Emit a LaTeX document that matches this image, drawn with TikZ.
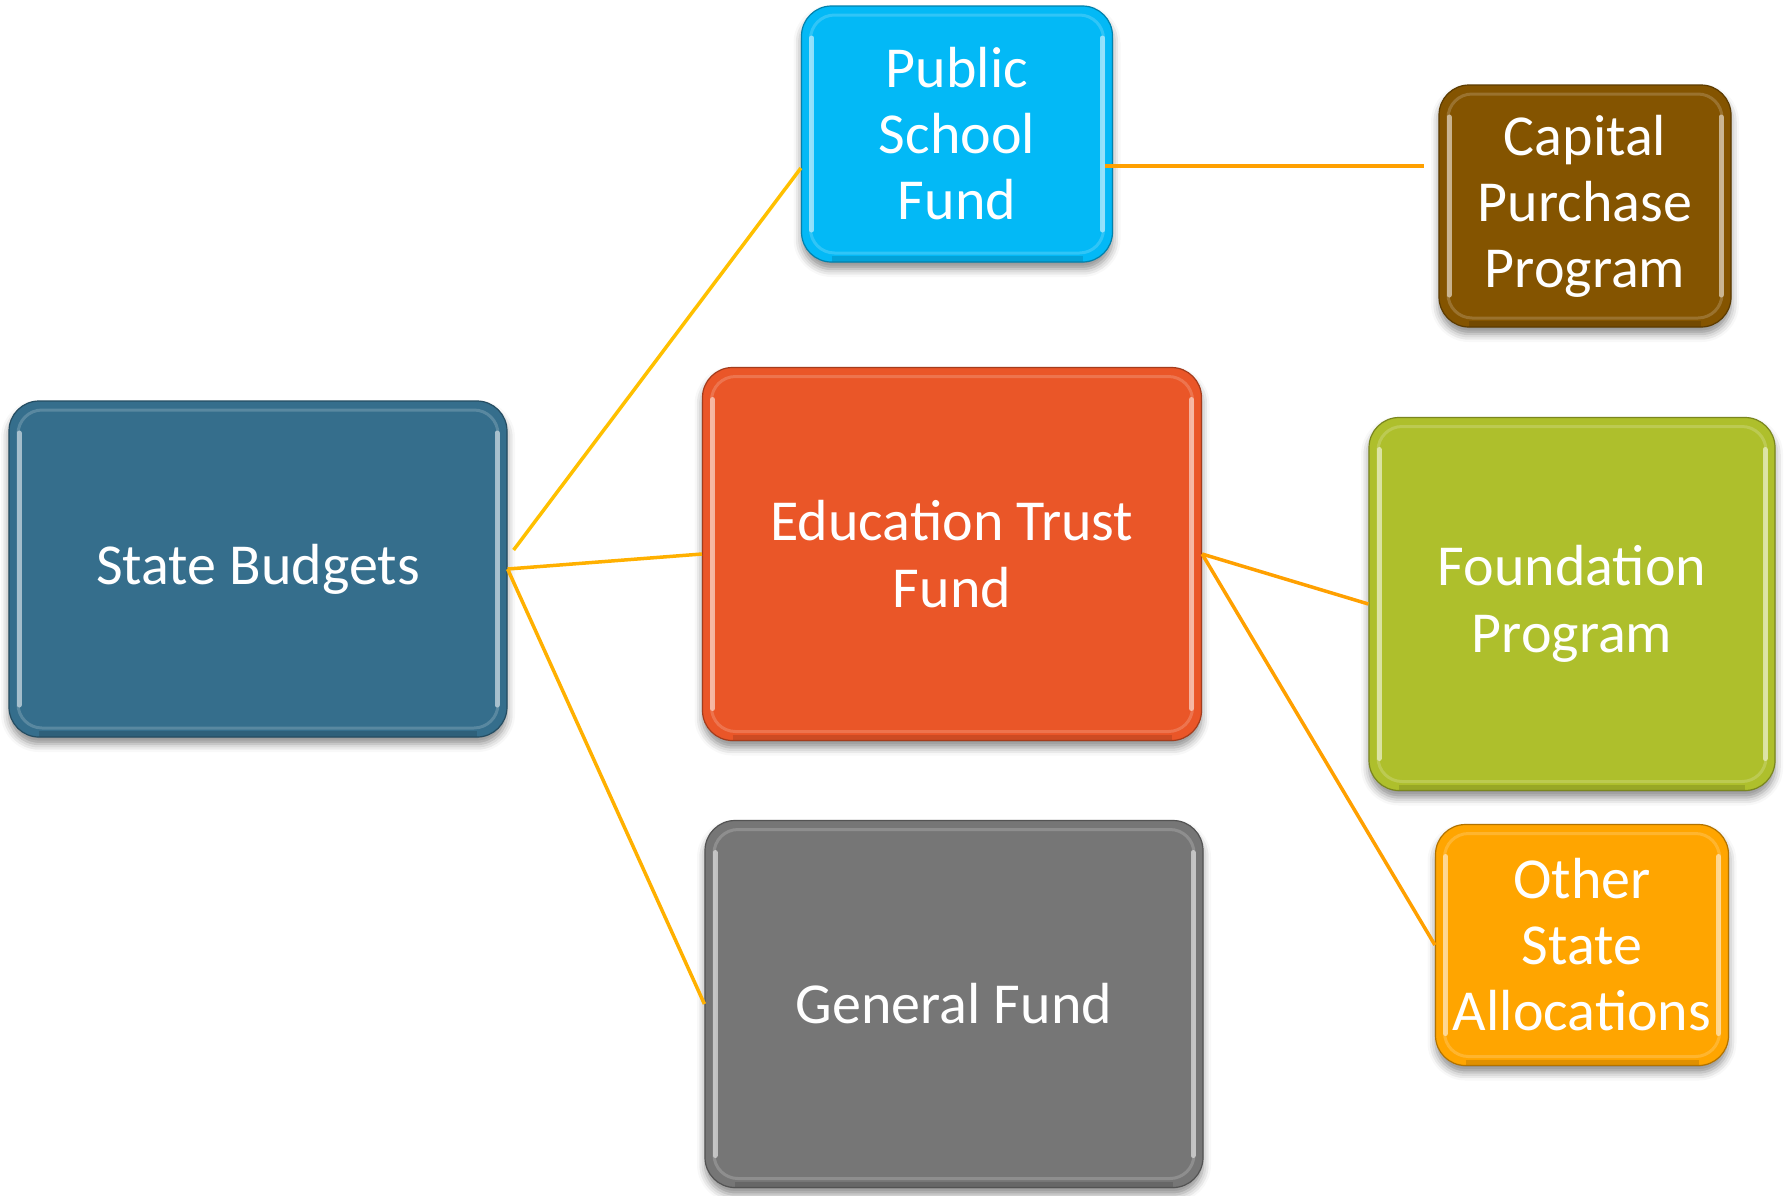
\documentclass[tikz,border=0pt]{standalone}
\usepackage{fontspec}
\setmainfont{Carlito}
\usetikzlibrary{shadows.blur,calc}

\definecolor{sbblue}{HTML}{356E8C}
\definecolor{pscyan}{HTML}{03B9F6}
\definecolor{capbrown}{HTML}{845400}
\definecolor{etforange}{HTML}{EA5628}
\definecolor{fpgreen}{HTML}{AEBF2C}
\definecolor{osayellow}{HTML}{FFA500}
\definecolor{gfgray}{HTML}{767676}
\definecolor{linkgold}{HTML}{FFC000}
\definecolor{linkamber}{HTML}{FFB000}
\definecolor{linkorange}{HTML}{FFA000}

\tikzset{
  bevelbox/.style={
    rounded corners=30pt, draw=#1!70!black, line width=1.2pt, fill=#1,
    text=white, align=center, inner sep=0pt,
    font=\fontsize{58}{66}\selectfont,
    blur shadow={shadow xshift=0pt, shadow yshift=-7pt,
                 shadow blur radius=8pt, shadow opacity=45},
    path picture={
      % soft inner frame
      \draw[white, opacity=0.18, line width=3pt, rounded corners=24pt]
        ([shift={(9pt,-9pt)}]path picture bounding box.north west) rectangle
        ([shift={(-9pt,9pt)}]path picture bounding box.south east);
      % bright bevel strips along the sides
      \draw[#1!35!white, line width=5pt, opacity=0.85, line cap=round]
        ([shift={(10pt,-32pt)}]path picture bounding box.north west) --
        ([shift={(10pt,32pt)}]path picture bounding box.south west)
        ([shift={(-10pt,-32pt)}]path picture bounding box.north east) --
        ([shift={(-10pt,32pt)}]path picture bounding box.south east);
      % darker rim at the bottom
      \draw[black, opacity=0.12, line width=6pt]
        ([shift={(30pt,3pt)}]path picture bounding box.south west) --
        ([shift={(-30pt,3pt)}]path picture bounding box.south east);
    }
  },
  link/.style={draw=#1, line width=3.5pt}
}

\begin{document}
\begin{tikzpicture}[x=1pt, y=-1pt]
  \useasboundingbox (0,0) rectangle (1787,1195);

  \node[bevelbox=sbblue, minimum width=498pt, minimum height=336pt]
    (sb) at (258,569) {State Budgets};
  \node[bevelbox=pscyan, minimum width=311pt, minimum height=256pt]
    (psf) at (957,134) {Public\\School\\Fund};
  \node[bevelbox=capbrown, minimum width=292pt, minimum height=242pt]
    (cap) at (1585,206) {Capital\\Purchase\\Program};
  \node[bevelbox=etforange, minimum width=499pt, minimum height=373pt, font=\fontsize{58}{67}\selectfont]
    (etf) at (952,554) {Education Trust\\Fund};
  \node[bevelbox=fpgreen, minimum width=406pt, minimum height=373pt, font=\fontsize{58}{67}\selectfont]
    (fp) at (1572,604) {Foundation\\Program};
  \node[bevelbox=osayellow, minimum width=293pt, minimum height=241pt]
    (osa) at (1582,945) {Other\\State\\Allocations};
  \node[bevelbox=gfgray, minimum width=498pt, minimum height=367pt]
    (gf) at (954,1004) {General Fund};

  % connectors
  \coordinate (sbout) at ($(sb.east)+(6pt,19pt)$);
  \coordinate (psfin) at ($(psf.west)+(0pt,-34pt)$);
  \coordinate (psfout) at ($(psf.east)+(-8pt,-32pt)$);
  \coordinate (capin) at ($(cap.west)+(-14pt,40pt)$);

  \draw[link=linkgold] (sbout) -- (psfin);
  \draw[link=linkamber] (sb.east) -- (etf.west);
  \draw[link=linkamber] (sb.east) -- (gf.west);
  \draw[link=linkorange] (psfout) -- (capin);
  \draw[link=linkorange] (etf.east) -- (fp.west);
  \draw[link=linkorange] (etf.east) -- (osa.west);
\end{tikzpicture}
\end{document}
